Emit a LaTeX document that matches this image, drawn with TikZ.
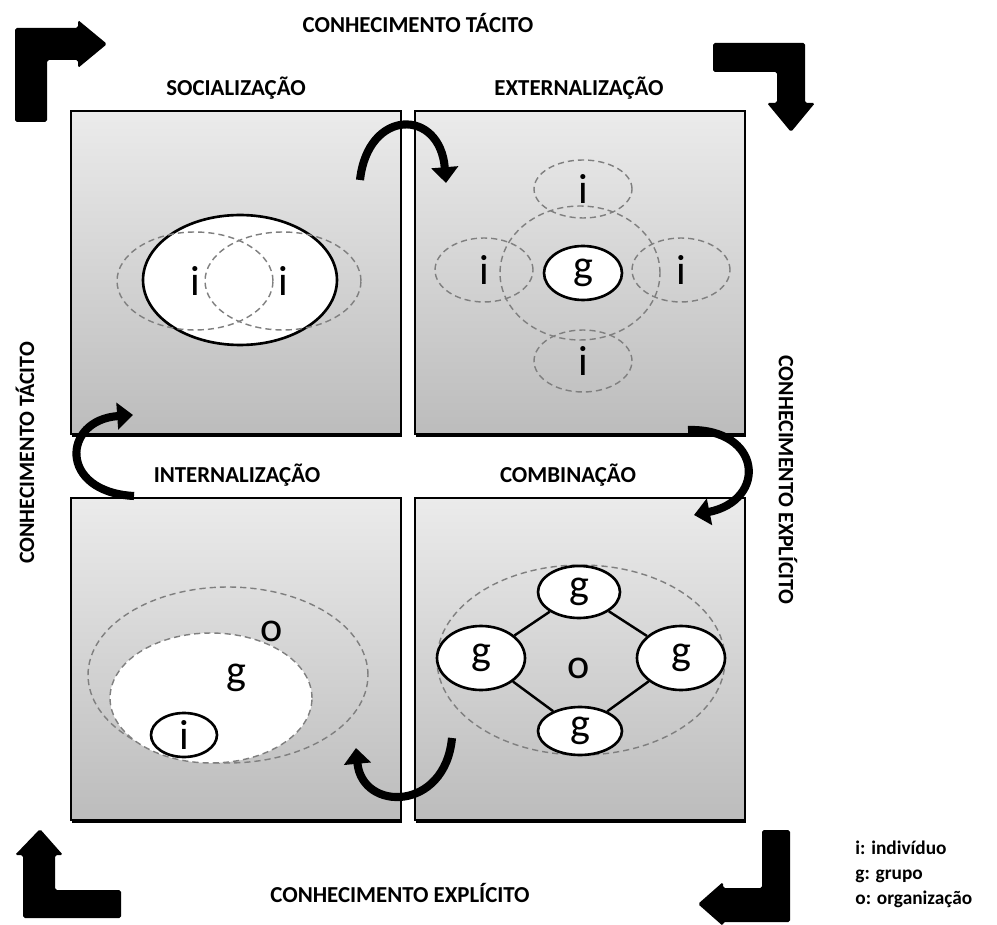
\documentclass[tikz,border=0pt]{standalone}
\usepackage{fontspec}
\setmainfont{Carlito}
\usetikzlibrary{shapes.geometric,arrows.meta,shadows}

\definecolor{ringgray}{HTML}{7F7F7F}
\definecolor{boxtop}{HTML}{EBEBEB}
\definecolor{boxbottom}{HTML}{BCBCBC}

\begin{document}
\begin{tikzpicture}[x=0.02cm, y=-0.02cm,
		quad/.style={
			draw, line width=1.2pt, top color=boxtop, bottom color=boxbottom,
			inner sep=0pt, minimum width=6.6cm, minimum height=6.45cm,
			drop shadow={shadow xshift=0.6pt, shadow yshift=-1.8pt, fill=black, opacity=1},
		},
		phase/.style={font=\bfseries\fontsize{13}{15}\selectfont, inner sep=0pt},
		side/.style={font=\bfseries\fontsize{12.5}{14}\selectfont, inner sep=0pt},
		legend/.style={font=\bfseries\fontsize{11}{13}\selectfont, inner sep=0pt, anchor=base west},
		letter/.style={font=\fontsize{24}{28}\selectfont, inner sep=0pt},
		solid/.style={ellipse, draw, line width=1.5pt, fill=white, inner sep=0pt,
			font=\fontsize{24}{28}\selectfont},
		ring/.style={ellipse, draw=ringgray, dash pattern=on 3.5pt off 2.3pt,
			line width=0.8pt, inner sep=0pt, font=\fontsize{24}{28}\selectfont},
		link/.style={line width=1.4pt},
		turn/.style={line width=4.6pt, -{Triangle[length=9pt, width=15pt]}},
		]
		
		\useasboundingbox (0,0) rectangle (997,925);
		
		% quadrants
		\node[quad] (soc) at (236,272.5) {};
		\node[quad] (ext) at (580,272.5) {};
		\node[quad] (int) at (236,659) {};
		\node[quad] (com) at (580,659) {};
		
		\node[phase] (socname) at (236,88)  {SOCIALIZAÇÃO};
		\node[phase] (extname) at (579,88)  {EXTERNALIZAÇÃO};
		\node[phase] (intname) at (237,475) {INTERNALIZAÇÃO};
		\node[phase] (comname) at (568,475) {COMBINAÇÃO};
		
		% socializacao
		\node[solid, minimum width=3.88cm, minimum height=2.6cm] (socg) at (240,280) {};
		\node[ring, minimum width=3.12cm, minimum height=1.96cm] (soci1) at (195,281) {i};
		\node[ring, minimum width=3.12cm, minimum height=1.96cm] (soci2) at (283,281) {i};
		
		% externalizacao
		\node[ring, minimum width=3.2cm, minimum height=2.68cm] (extc) at (580,273) {};
		\node[ring, minimum width=1.96cm, minimum height=1.16cm] (exti1) at (583,189) {i};
		\node[ring, minimum width=1.96cm, minimum height=1.24cm] (exti2) at (583,361) {i};
		\node[ring, minimum width=1.96cm, minimum height=1.28cm] (exti3) at (484,270) {i};
		\node[ring, minimum width=1.96cm, minimum height=1.28cm] (exti4) at (681,270) {i};
		\node[solid, minimum width=1.56cm, minimum height=1.08cm] (extg) at (583,273) {g};
		
		% internalizacao
		\node[ring, minimum width=5.6cm, minimum height=3.52cm] (into) at (228,675) {};
		\node[ring, fill=white, minimum width=4.04cm, minimum height=2.6cm] (intg) at (211,698) {};
		\node[solid, minimum width=1.32cm, minimum height=0.88cm] (inti) at (184,735) {i};
		\node[letter] (intolabel) at (272,631) {o};
		\node[letter] (intglabel) at (236,678) {g};
		
		% combinacao
		\node[ring, minimum width=5.76cm, minimum height=3.8cm] (como) at (581,660) {};
		\node[letter] (comolabel) at (579,668) {o};
		\node[solid, minimum width=1.64cm, minimum height=1.04cm] (comg1) at (579,592) {g};
		\node[solid, minimum width=1.76cm, minimum height=1.28cm] (comg2) at (481,658) {g};
		\node[solid, minimum width=1.76cm, minimum height=1.28cm] (comg3) at (681,658) {g};
		\node[solid, minimum width=1.68cm, minimum height=0.96cm] (comg4) at (580,731) {g};
		\draw[link] (comg1) -- (comg2);
		\draw[link] (comg1) -- (comg3);
		\draw[link] (comg2) -- (comg4);
		\draw[link] (comg3) -- (comg4);
		
		% spiral
		\coordinate (sx1) at (360,180);
		\coordinate (sx2) at (446,183);
		\coordinate (ec1) at (688,430);
		\coordinate (ec2) at (694,515);
		\coordinate (ci1) at (452,738);
		\coordinate (ci2) at (356,748);
		\coordinate (is1) at (134,496);
		\coordinate (is2) at (133,415);
		\draw[turn] (sx1) .. controls (368,108) and (440,108) .. (sx2);
		\draw[turn] (ec1) .. controls (762,428) and (768,500) .. (ec2);
		\draw[turn] (ci1) .. controls (445,812) and (362,812) .. (ci2);
		\draw[turn] (is1) .. controls (58,492) and (62,420) .. (is2);
		
		% corner arrows
		\fill[rounded corners=1pt] (15,122) -- (15,28) -- (78,28) -- (78,20) -- (107,44)
		-- (78,68) -- (78,60) -- (47,60) -- (47,122) -- cycle;
		\fill[rounded corners=1pt] (713,43) -- (805,43) -- (805,103) -- (815,103) -- (791,132)
		-- (767,103) -- (777,103) -- (777,72) -- (713,72) -- cycle;
		\fill[rounded corners=1pt] (40,829) -- (63,855) -- (55,855) -- (55,890) -- (121,890)
		-- (121,918) -- (23,918) -- (23,855) -- (15,855) -- cycle;
		\fill[rounded corners=1pt] (790,830) -- (790,922) -- (723,922) -- (723,926) -- (698,904)
		-- (723,882) -- (723,888) -- (762,888) -- (762,830) -- cycle;
		
		\node[phase] (toptitle) at (418,23) {CONHECIMENTO TÁCITO};
		\node[phase] (bottitle) at (400,893) {CONHECIMENTO EXPLÍCITO};
		\node[side, rotate=90]  (lefttitle)  at (25,453)  {CONHECIMENTO TÁCITO};
		\node[side, rotate=-90] (righttitle) at (788,480) {CONHECIMENTO EXPLÍCITO};
		
		\node[legend] (legi) at (855,854) {i: indivíduo};
		\node[legend] (legg) at (855,879) {g: grupo};
		\node[legend] (lego) at (855,904) {o: organização};
		
	\end{tikzpicture}
\end{document}
